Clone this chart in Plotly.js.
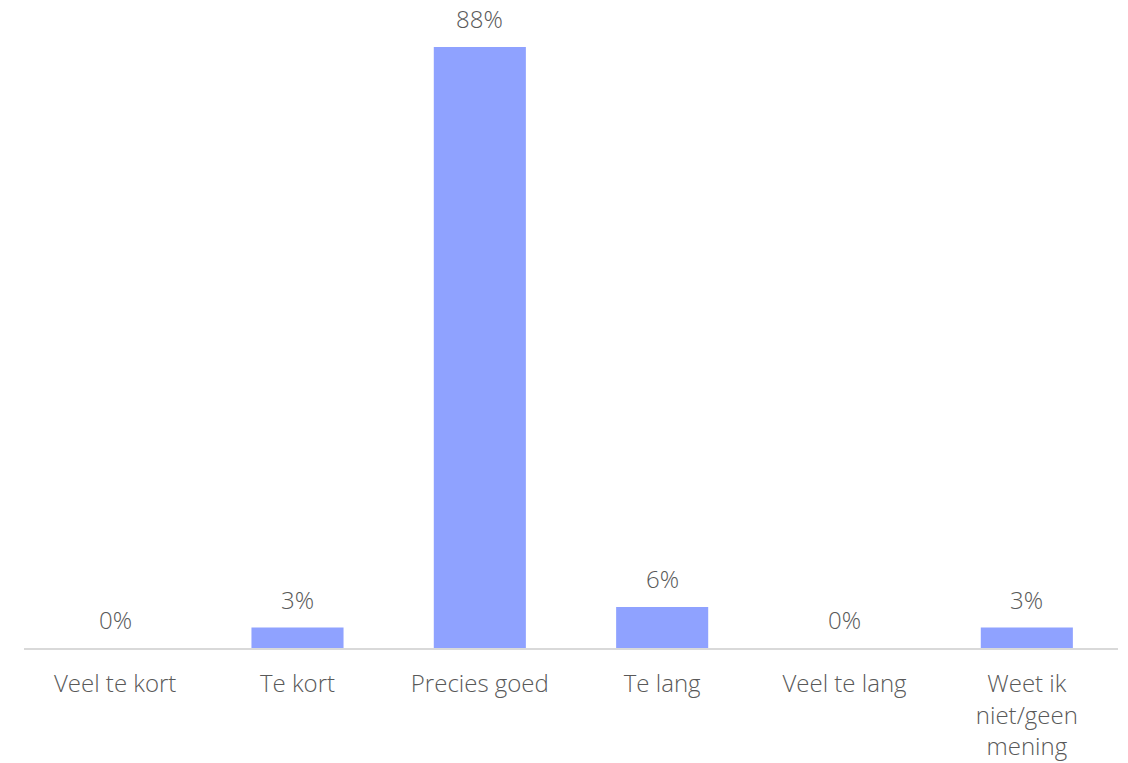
<!DOCTYPE html>
<html>
<head>
<meta charset="utf-8">
<script src="https://cdn.plot.ly/plotly-3.0.1.min.js"></script>
<style>html,body{margin:0;padding:0;background:#fff;}#chart{width:1128px;height:763px;}</style>
</head>
<body>
<div id="chart"></div>
<script>
const categories = ["Veel te kort", "Te kort", "Precies goed", "Te lang", "Veel te lang", "Weet ik<br>niet/geen<br>mening"];
const values = [0, 3, 88, 6, 0, 3];
const labels = ["0%", "3%", "88%", "6%", "0%", "3%"];

const font = {family: "'Open Sans', Lato, sans-serif", size: 24, color: "#595959", weight: 300};

const trace = {
  type: "bar",
  x: categories,
  y: values,
  marker: {color: "#8FA2FF"},
  hoverinfo: "none"
};

const annotations = categories.map((c, i) => ({
  x: c, y: values[i], xref: "x", yref: "y",
  text: labels[i], showarrow: false,
  yanchor: "bottom", yshift: 10,
  font: font
}));

const layout = {
  width: 1128, height: 763,
  margin: {l: 24, r: 10, t: 20, b: 115},
  paper_bgcolor: "#fff", plot_bgcolor: "#fff",
  bargap: 0.495,
  showlegend: false,
  font: font,
  xaxis: {
    type: "category",
    showline: true, linecolor: "#D9D9D9", linewidth: 1.5,
    ticks: "", showgrid: false, zeroline: false,
    ticklabelstandoff: 14,
    tickfont: font
  },
  yaxis: {
    range: [0, 91.95], visible: false, showgrid: false, zeroline: false
  },
  annotations: annotations
};

Plotly.newPlot("chart", [trace], layout, {displayModeBar: false, staticPlot: true});
</script>
</body>
</html>
